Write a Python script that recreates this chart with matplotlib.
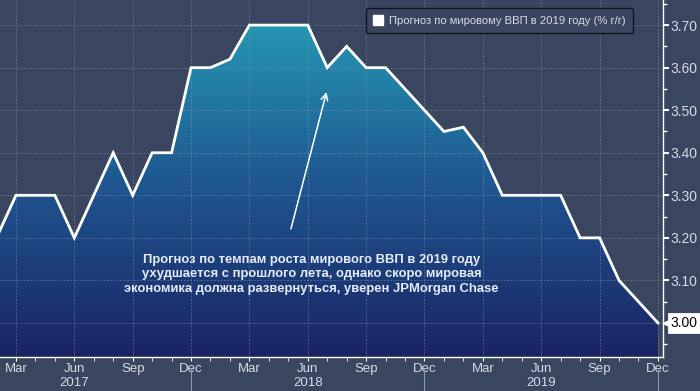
import numpy as np
import matplotlib
matplotlib.use("Agg")
import matplotlib.pyplot as plt
from matplotlib.colors import LinearSegmentedColormap
from matplotlib.patches import Patch
from matplotlib.ticker import FixedLocator, MultipleLocator
import matplotlib.transforms as mtransforms

# month index: Jan 2017 = 0
months = ["2017-02", "2017-03", "2017-04", "2017-05", "2017-06", "2017-07",
          "2017-08", "2017-09", "2017-10", "2017-11", "2017-12",
          "2018-01", "2018-02", "2018-03", "2018-04", "2018-05", "2018-06",
          "2018-07", "2018-08", "2018-09", "2018-10", "2018-11", "2018-12",
          "2019-01", "2019-02", "2019-03", "2019-04", "2019-05", "2019-06",
          "2019-07", "2019-08", "2019-09", "2019-10", "2019-11", "2019-12"]
forecast = [3.20, 3.30, 3.30, 3.30, 3.20, 3.30,
            3.40, 3.30, 3.40, 3.40, 3.60,
            3.60, 3.62, 3.70, 3.70, 3.70, 3.70,
            3.60, 3.65, 3.60, 3.60, 3.55, 3.50,
            3.45, 3.46, 3.40, 3.30, 3.30, 3.30,
            3.30, 3.20, 3.20, 3.10, 3.05, 3.00]

tick_months = [2, 5, 8, 11, 14, 17, 20, 23, 26, 29, 32, 35]
tick_labels = ["Mar", "Jun", "Sep", "Dec"] * 3
years = ["2017", "2018", "2019"]
year_pos = [5, 17, 29]
year_breaks = [11, 23, 35]

legend_label = "Прогноз по мировому ВВП в 2019 году (% г/г)"
note = ("Прогноз по темпам роста мирового ВВП в 2019 году\n"
        "ухудшается с прошлого лета, однако скоро мировая\n"
        "экономика должна развернуться, уверен JPMorgan Chase")

def month_index(s):
    y, m = s.split("-")
    return (int(y) - 2017) * 12 + int(m) - 1

x = np.array([month_index(m) for m in months], dtype=float)
y = np.array(forecast)

BG = "#3a4560"
TXT = "#d6dae3"
xmin, xmax = 1.18, 35.26
ymin, ymax = 2.92, 3.759

plt.rcParams["font.family"] = ["Liberation Sans", "DejaVu Sans"]

fig = plt.figure(figsize=(7, 3.91), dpi=100, facecolor=BG)
ax = fig.add_axes([0, 34 / 391, 663 / 700, 1 - 34 / 391])
ax.set_facecolor(BG)
ax.set_xlim(xmin, xmax)
ax.set_ylim(ymin, ymax)

# gradient fill under the line
cmap = LinearSegmentedColormap.from_list("g", ["#1a2463", "#1f5590", "#2599b4"])
grad = np.linspace(0, 1, 256).reshape(-1, 1)
img = ax.imshow(grad, extent=[xmin, xmax, ymin, 3.72], origin="lower",
                cmap=cmap, aspect="auto", zorder=1)
poly = ax.fill_between(x, y, ymin, color="none", lw=0)
img.set_clip_path(poly.get_paths()[0], transform=ax.transData)

ax.plot(x, y, color="white", lw=2, zorder=3, solid_joinstyle="miter")

# grid
ax.xaxis.set_major_locator(FixedLocator(tick_months))
ax.xaxis.set_minor_locator(MultipleLocator(1))
ax.yaxis.set_major_locator(MultipleLocator(0.1))
ax.yaxis.set_minor_locator(MultipleLocator(0.05))
ax.grid(True, which="major", color="#8f99b3", lw=0.6, ls=(0, (2, 2)), alpha=0.6, zorder=2)

ax.set_xticklabels(tick_labels, color=TXT, fontsize=9.5)
ax.tick_params(axis="x", which="both", direction="out", length=3, color="white", pad=1.5)

ax.yaxis.tick_right()
ylabels = ["" if abs(v - 3.0) < 1e-6 else f"{v:.2f}" for v in ax.get_yticks()]
ax.set_yticks(ax.get_yticks())
ax.set_yticklabels(ylabels, color=TXT, fontsize=10)
ax.set_ylim(ymin, ymax)
ax.tick_params(axis="y", which="major", direction="out", length=4, width=1.5, color="white", pad=1.5)
ax.tick_params(axis="y", which="minor", direction="out", length=3, width=1, color="white")

for s in ["top", "left"]:
    ax.spines[s].set_visible(False)
for s in ["bottom", "right"]:
    ax.spines[s].set_color("white")
    ax.spines[s].set_linewidth(1)

# year labels and separators
tr = mtransforms.blended_transform_factory(ax.transData, ax.transAxes)
for yr, p in zip(years, year_pos):
    ax.text(p, -0.073, yr, transform=tr, ha="center", va="center", color=TXT, fontsize=9.5)
for b in year_breaks:
    ax.plot([b, b], [-0.03, -0.12], transform=tr, color="#8f99b3", lw=0.8, clip_on=False)

# last value tag
tr_right = mtransforms.blended_transform_factory(ax.transAxes, ax.transData)
ax.annotate("3.00", xy=(1, y[-1]), xycoords=tr_right,
            xytext=(5.5, 0), textcoords="offset points", va="center", ha="left",
            fontsize=10, color="black", zorder=6, annotation_clip=False,
            bbox=dict(boxstyle="square,pad=0.2", fc="white", ec="white", lw=0.6))
ax.plot([1], [y[-1]], transform=mtransforms.offset_copy(tr_right, fig=fig, x=4.5, y=0, units="points"),
        marker="<", ms=8, color="white", mec="white", clip_on=False, zorder=5)

# note with arrow
ax.annotate("", xy=(18.0, 3.549), xytext=(16.1, 3.215),
            arrowprops=dict(arrowstyle="->", color="white", lw=1.1, mutation_scale=12), zorder=4)
ax.text(17.2, 3.114, note, ha="center", va="center", color="#e4edf7",
        fontsize=9.4, fontweight="bold", linespacing=1.25, zorder=4)

leg = ax.legend(handles=[Patch(fc="white", ec="white")], labels=[legend_label],
                loc="upper right", bbox_to_anchor=(0.963, 0.993), fontsize=8.1,
                frameon=True, facecolor=BG, edgecolor="#101520", labelcolor=TXT,
                handlelength=0.9, handleheight=0.9, handletextpad=0.5,
                borderpad=0.65, fancybox=True)
leg.get_frame().set_alpha(1)
leg.get_frame().set_linewidth(1)

fig.savefig("out.png", dpi=100, facecolor=BG)
